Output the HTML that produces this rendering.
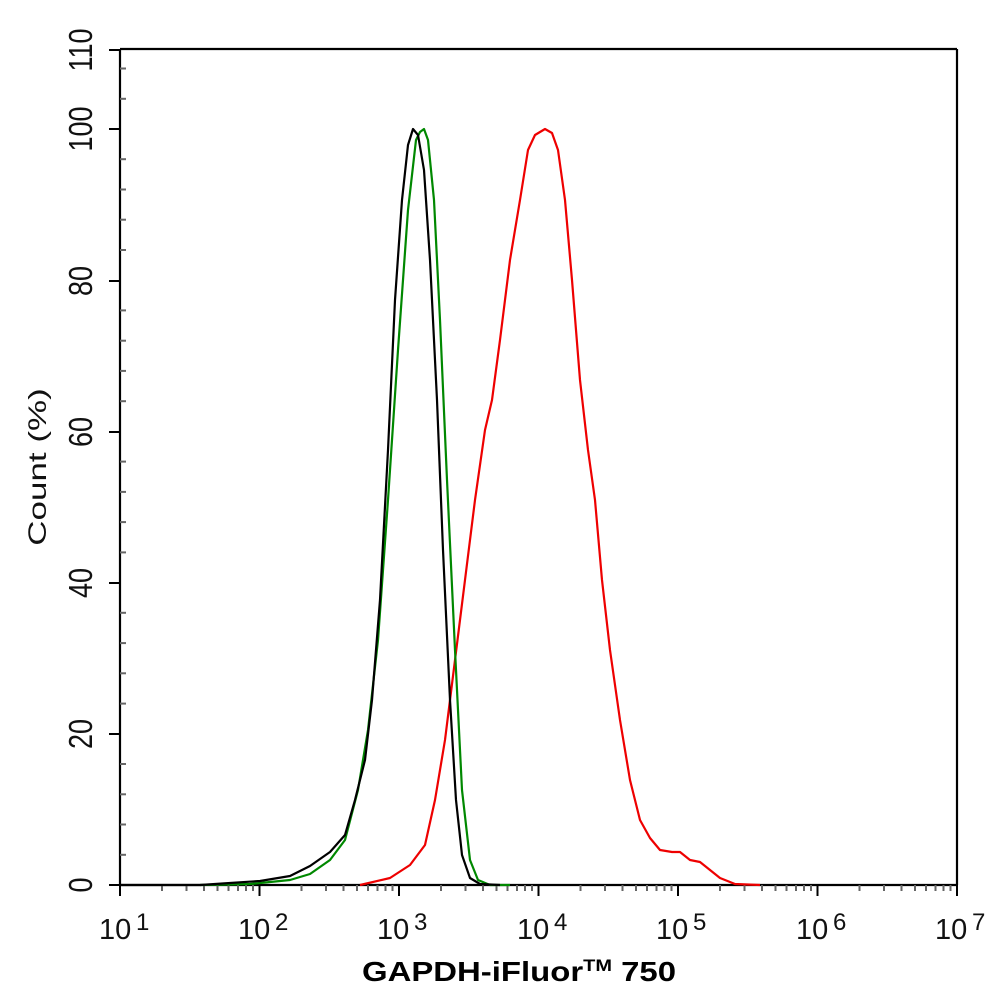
<!DOCTYPE html>
<html><head><meta charset="utf-8"><style>body{margin:0;background:#fff}svg{display:block}text{font-family:"Liberation Sans",Arial,sans-serif}</style></head><body>
<svg width="994" height="1002" viewBox="0 0 994 1002" xmlns="http://www.w3.org/2000/svg">
<defs>
<g id="dec" stroke="#666" stroke-width="2">
<line x1="0" y1="885" x2="0" y2="896" stroke="#000"/>
<line x1="42" y1="885" x2="42" y2="891"/><line x1="66.5" y1="885" x2="66.5" y2="891"/><line x1="84" y1="885" x2="84" y2="891"/><line x1="97.5" y1="885" x2="97.5" y2="891"/><line x1="108.5" y1="885" x2="108.5" y2="891"/><line x1="118" y1="885" x2="118" y2="891"/><line x1="126" y1="885" x2="126" y2="891"/><line x1="133" y1="885" x2="133" y2="891"/>
</g>
</defs>
<rect width="994" height="1002" fill="#fff"/>
<g stroke="#000" stroke-width="2.2" fill="none">
<line x1="120" y1="49" x2="120" y2="885"/>
<line x1="120" y1="885" x2="957" y2="885"/>
<line x1="120" y1="49" x2="957" y2="49"/>
<line x1="957" y1="49" x2="957" y2="885"/>
</g>
<g stroke="#000" stroke-width="2">
<line x1="109" y1="885" x2="120" y2="885"/><line x1="109" y1="734" x2="120" y2="734"/><line x1="109" y1="583" x2="120" y2="583"/><line x1="109" y1="432" x2="120" y2="432"/><line x1="109" y1="281" x2="120" y2="281"/><line x1="109" y1="129" x2="120" y2="129"/><line x1="109" y1="50" x2="120" y2="50"/>
<line x1="957" y1="885" x2="957" y2="896"/>
</g>
<g stroke="#666" stroke-width="2">
<line x1="120" x2="126" y1="854.8" y2="854.8"/><line x1="120" x2="126" y1="824.5" y2="824.5"/><line x1="120" x2="126" y1="794.3" y2="794.3"/><line x1="120" x2="126" y1="764" y2="764"/>
<line x1="120" x2="126" y1="703.6" y2="703.6"/><line x1="120" x2="126" y1="673.3" y2="673.3"/><line x1="120" x2="126" y1="643.1" y2="643.1"/><line x1="120" x2="126" y1="612.8" y2="612.8"/>
<line x1="120" x2="126" y1="552.4" y2="552.4"/><line x1="120" x2="126" y1="522.1" y2="522.1"/><line x1="120" x2="126" y1="491.9" y2="491.9"/><line x1="120" x2="126" y1="461.6" y2="461.6"/>
<line x1="120" x2="126" y1="401.2" y2="401.2"/><line x1="120" x2="126" y1="370.9" y2="370.9"/><line x1="120" x2="126" y1="340.7" y2="340.7"/><line x1="120" x2="126" y1="310.4" y2="310.4"/>
<line x1="120" x2="126" y1="250" y2="250"/><line x1="120" x2="126" y1="219.7" y2="219.7"/><line x1="120" x2="126" y1="189.5" y2="189.5"/><line x1="120" x2="126" y1="159.2" y2="159.2"/>
<line x1="120" x2="126" y1="98.8" y2="98.8"/><line x1="120" x2="126" y1="68.5" y2="68.5"/>
</g>
<use href="#dec" x="120"/><use href="#dec" x="259.5"/><use href="#dec" x="399"/><use href="#dec" x="538.5"/><use href="#dec" x="678"/><use href="#dec" x="817.5"/>
<g font-size="27" fill="#111" text-anchor="middle">
<text transform="translate(92,885) scale(1.23,1) rotate(-90)">0</text>
<text transform="translate(92,734) scale(1.23,1) rotate(-90)">20</text>
<text transform="translate(92,583) scale(1.23,1) rotate(-90)">40</text>
<text transform="translate(92,432) scale(1.23,1) rotate(-90)">60</text>
<text transform="translate(92,281) scale(1.23,1) rotate(-90)">80</text>
<text transform="translate(92,129) scale(1.23,1) rotate(-90)">100</text>
<text transform="translate(92,50) scale(1.23,1) rotate(-90)">110</text>
</g>
<text transform="translate(46,467) scale(0.72,1) rotate(-90)" font-size="35" fill="#111" text-anchor="middle">Count  (%)</text>
<g font-size="29" fill="#111">
<text x="99" y="939">10</text><text x="136" y="930" font-size="24">1</text>
<text x="238" y="939">10</text><text x="275" y="930" font-size="24">2</text>
<text x="377" y="939">10</text><text x="414" y="930" font-size="24">3</text>
<text x="517" y="939">10</text><text x="554" y="930" font-size="24">4</text>
<text x="656" y="939">10</text><text x="693" y="930" font-size="24">5</text>
<text x="796" y="939">10</text><text x="833" y="930" font-size="24">6</text>
<text x="935" y="939">10</text><text x="972" y="930" font-size="24">7</text>
</g>
<text x="362" y="981" font-size="28" font-weight="bold" textLength="314" lengthAdjust="spacingAndGlyphs">GAPDH-iFluor<tspan font-size="17" dy="-10">TM</tspan><tspan dy="10"> 750</tspan></text>
<g fill="none" stroke-width="2.2" stroke-linejoin="round">
<polyline stroke="#e00" points="360,885 390,878 410,865 425,845 435,800 445,740 455,660 465,580 475,500 485,430 492,400 500,340 510,260 520,200 528,150 535,135 545,129 552,133 558,150 565,200 572,280 580,380 588,450 595,500 602,580 610,650 620,720 630,780 640,820 650,838 660,850 672,852 680,852 690,860 700,862 710,870 720,878 735,884 760,885"/>
<polyline stroke="#080" points="200,885 250,884 290,880 310,874 330,860 345,840 358,790 368,730 378,640 388,500 398,350 408,210 416,140 420,132 424,129 428,140 434,200 440,320 447,480 455,650 462,790 470,860 478,880 490,885 510,885"/>
<polyline stroke="#000" points="120,885 200,885 230,883 260,881 290,876 310,866 330,852 345,835 355,800 365,760 372,700 380,600 388,450 395,300 402,200 408,145 413,129 418,135 424,170 430,260 437,400 443,550 450,700 456,800 462,855 470,878 480,884 500,885"/>
</g>
</svg>
</body></html>
